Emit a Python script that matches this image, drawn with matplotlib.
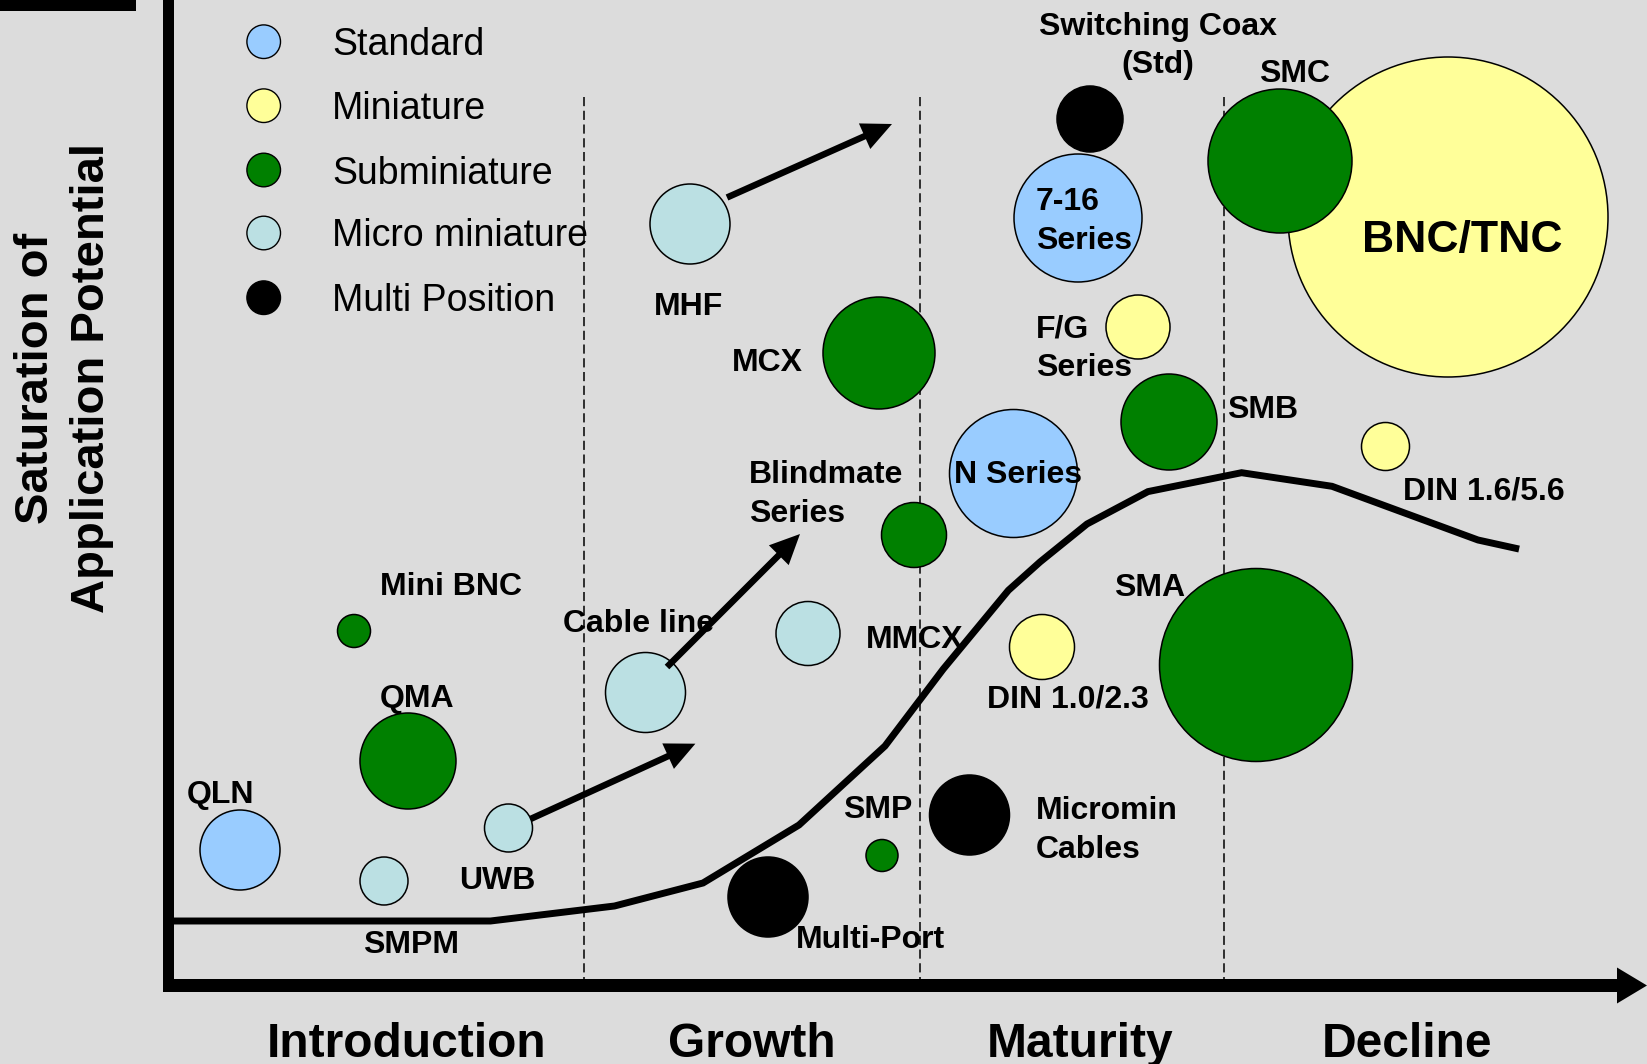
import matplotlib
matplotlib.use('Agg')
import matplotlib.pyplot as plt
from matplotlib.patches import Circle, Rectangle, FancyArrow

plt.rcParams['font.family'] = ['Liberation Sans', 'DejaVu Sans']

W, H = 1647, 1064
BG = '#DCDCDC'

# ---- data ----
categories = ['Standard', 'Miniature', 'Subminiature', 'Micro miniature', 'Multi Position']
category_colors = ['#99CCFF', '#FFFF99', '#008000', '#BBE0E3', '#000000']
legend_y = [41.7, 105.7, 170, 233, 297.7]

stages = ['Introduction', 'Growth', 'Maturity', 'Decline']
stage_x = [407, 752, 1080, 1407]
stage_bounds = [584, 920, 1224]

conn_names = ['QLN', 'SMPM', 'QMA', 'Mini BNC', 'UWB', 'Cable line', 'MHF', 'MCX',
              'Blindmate\nSeries', 'MMCX', 'SMP', 'Multi-Port', 'Micromin\nCables',
              'N Series', 'Switching Coax\n(Std)', '7-16\nSeries', 'F/G\nSeries', 'SMB',
              'BNC/TNC', 'SMC', 'DIN 1.6/5.6', 'DIN 1.0/2.3', 'SMA']
conn_cat = [0, 3, 2, 2, 3, 3, 3, 2, 2, 3, 2, 4, 4, 0, 4, 0, 1, 2, 1, 2, 1, 1, 2]
conn_x = [240, 384, 408, 354, 508.5, 645.5, 690, 879, 914, 808, 882, 768, 969.5,
          1013.5, 1090, 1078, 1138, 1169, 1448, 1280, 1385.5, 1042, 1256]
conn_y = [850, 881, 761, 631, 828, 692.5, 224, 353, 535, 633.5, 855.5, 897, 815,
          473.5, 119, 218, 327, 422, 217, 161, 446.5, 647, 665]
conn_r = [40, 24, 48, 16.5, 24, 40, 40, 56, 32.5, 32, 16, 40, 40,
          64, 33, 64, 32, 48, 160, 72, 24, 32.5, 96.5]

label_x = [221, 411, 416.6, 451, 497, 639, 689, 767, 749, 915, 878, 870, 1036,
           1018, 1158, 1036, 1036, 1262.6, 1462, 1295, 1484, 1068, 1150]
label_y = [803, 953, 707, 595, 889, 632, 315, 371, 483, 648, 818, 948, 819,
           483, 34.5, 210.5, 338, 418, 252, 82, 499, 707, 595.5]
label_ha = ['center', 'center', 'center', 'center', 'center', 'center', 'center', 'center',
            'left', 'center', 'center', 'center', 'left', 'center', 'center', 'left', 'left',
            'center', 'center', 'center', 'center', 'center', 'center']
label_size = [23] * 18 + [32] + [23] * 4

curve_x = [168, 490.5, 614.5, 703, 799, 885, 943.3, 1008.4, 1040, 1087, 1148,
           1241.6, 1332, 1478, 1515.7]
curve_y = [921, 921, 906, 883, 825, 746, 669, 590.3, 562, 524, 491.6,
           472.7, 486.3, 540, 548.3]

arrow_start = [(530.5, 819), (667, 667), (727, 197.5)]
arrow_end = [(695.4, 743.7), (800, 534), (892, 124)]

# ---- figure ----
fig = plt.figure(figsize=(W / 100, H / 100), dpi=100)
fig.patch.set_facecolor(BG)
ax = fig.add_axes([0, 0, 1, 1])
ax.set_xlim(0, W)
ax.set_ylim(H, 0)
ax.set_aspect('equal')
ax.axis('off')
ax.set_facecolor(BG)

# top-left black bar
ax.add_patch(Rectangle((0, 0), 136, 11, color='black', lw=0))

# stage boundaries
for bx in stage_bounds:
    ax.plot([bx, bx], [97, 980], color='black', lw=1.1, dashes=(6, 3), zorder=1)

# axes
ax.add_patch(Rectangle((163, 0), 11, 992, color='black', lw=0, zorder=5))
ax.add_patch(FancyArrow(163, 985.5, W - 163, 0, width=13, head_width=36, head_length=30,
                        length_includes_head=True, color='black', lw=0, zorder=5))

# legend
for i, (cat, col) in enumerate(zip(categories, category_colors)):
    ax.add_patch(Circle((263.7, legend_y[i]), 16.8, facecolor=col, edgecolor='black',
                        lw=1.0, zorder=3))
    ax.text(332, legend_y[i] + 13.5, cat, fontsize=27, va='baseline', ha='left', zorder=4)

# bubbles
for i in range(len(conn_names)):
    ax.add_patch(Circle((conn_x[i], conn_y[i]), conn_r[i],
                        facecolor=category_colors[conn_cat[i]], edgecolor='black',
                        lw=1.1, zorder=3))

# life-cycle curve
ax.plot(curve_x, curve_y, color='black', lw=5, solid_joinstyle='miter', zorder=6)

# arrows
for (sx, sy), (ex, ey) in zip(arrow_start, arrow_end):
    ax.add_patch(FancyArrow(sx, sy, ex - sx, ey - sy, width=6.5, head_width=28,
                            head_length=30, length_includes_head=True,
                            color='black', lw=0, zorder=6))

# labels
for i, name in enumerate(conn_names):
    for j, line in enumerate(name.split('\n')):
        ax.text(label_x[i], label_y[i] + j * 38.5, line, fontsize=label_size[i],
                fontweight='bold', ha=label_ha[i], va='baseline', zorder=7)

# stage labels
for sx, st in zip(stage_x, stages):
    ax.text(sx, 1057, st, fontsize=34.5, fontweight='bold', ha='center', va='baseline')

# y label
ax.text(64, 378, 'Saturation of\nApplication Potential', fontsize=34, fontweight='bold',
        rotation=90, ha='center', va='center', multialignment='center', linespacing=1.37)

fig.savefig('out.png', dpi=100, facecolor=BG)
